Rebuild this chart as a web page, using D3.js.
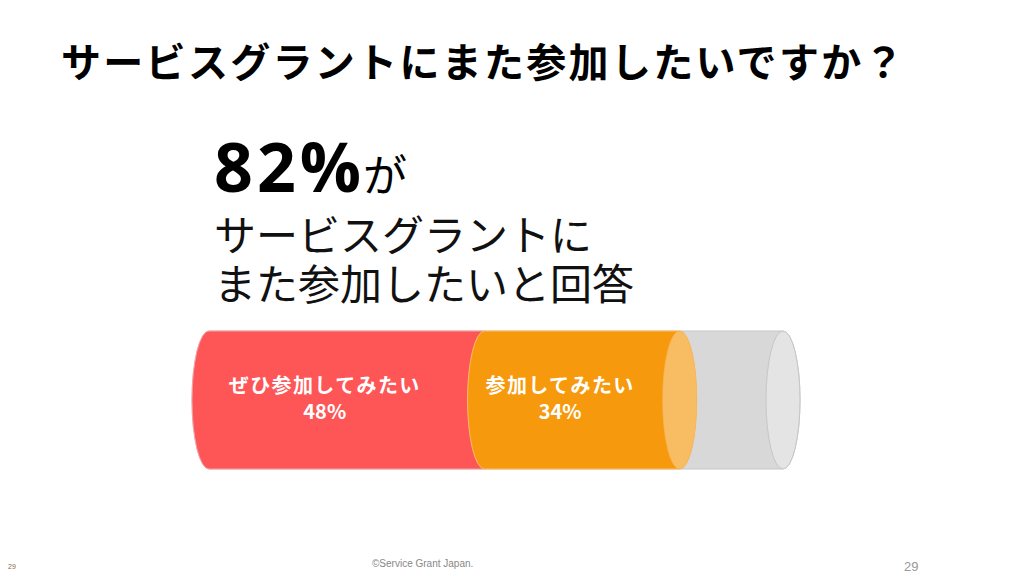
<!DOCTYPE html>
<html><head><meta charset="utf-8">
<script src="https://cdn.jsdelivr.net/npm/d3@7"></script>
<style>
html,body{margin:0;padding:0;background:#fff;}
svg{display:block;}
</style></head>
<body>
<svg id="chart" width="1024" height="576"></svg>
<script>
// ---- data ----
const categories = ["ぜひ参加してみたい", "参加してみたい"];
const values = [48, 34];
const total = 100;
const titleText = "サービスグラントにまた参加したいですか？";
const headlineValue = "82%";
const headlineSuffix = "が";
const subLines = ["サービスグラントに", "また参加したいと回答"];
const footerText = "©Service Grant Japan.";
const pageNumber = "29";

// ---- styles ----
const fills = ["#FE5557", "#F7990D"];
const strokes = ["#F4A4A5", "#F8BE6A"];
const capFill = "#F8BC63";
const bgFill = "#D8D8D8";
const bgCap = "#E4E4E4";
const jp = "'Noto Sans CJK JP', 'Noto Sans', sans-serif";

const svg = d3.select("#chart");

// title
svg.append("text").attr("x", 61).attr("y", 77)
  .attr("font-family", jp).attr("font-weight", 700).attr("font-size", 40)
  .attr("letter-spacing", 2.3).attr("fill", "#000").text(titleText);

// headline block (one text, several lines)
const hl = svg.append("text").attr("fill", "#000").attr("font-family", jp);
hl.append("tspan").attr("x", 214).attr("y", 192)
  .attr("font-family", "'Open Sans', 'Noto Sans', sans-serif")
  .attr("font-weight", 700).attr("font-size", 68).attr("letter-spacing", 4).text(headlineValue);
hl.append("tspan").attr("font-weight", 400).attr("font-size", 44).attr("dx", -2).text(headlineSuffix);
subLines.forEach((line, i) => {
  hl.append("tspan").attr("x", 214).attr("y", 251 + i * 49)
    .attr("font-weight", 400).attr("font-size", 42).attr("fill", "#111").text(line);
});

// ---- cylinder chart ----
const x = d3.scaleLinear().domain([0, total]).range([209, 783]);
const y = d3.scaleLinear().domain([0, 1]).range([331, 469]);
const rx = 17, ry = (y(1) - y(0)) / 2, cy = (y(0) + y(1)) / 2;

function body(x0, x1) {
  return `M${x0},${y(0)} L${x1},${y(0)} A${rx},${ry} 0 0 1 ${x1},${y(1)} L${x0},${y(1)} A${rx},${ry} 0 0 1 ${x0},${y(0)} Z`;
}

const g = svg.append("g");
// background (remaining) cylinder
g.append("path").attr("d", body(x(0), x(total)))
  .attr("fill", bgFill).attr("stroke", "#C6C6C6").attr("stroke-width", 1);
g.append("ellipse").attr("cx", x(total)).attr("cy", cy).attr("rx", rx).attr("ry", ry)
  .attr("fill", bgCap).attr("stroke", "#C6C6C6").attr("stroke-width", 1);

const stack = [];
let acc = 0;
values.forEach((v, i) => { stack.push({ cat: categories[i], v, s: acc, e: acc + v, i }); acc += v; });

g.selectAll("path.seg").data(stack).join("path").attr("class", "seg")
  .attr("d", d => body(x(d.s), x(d.e)))
  .attr("fill", d => fills[d.i]).attr("stroke", d => strokes[d.i]).attr("stroke-width", 1);

const last = stack[stack.length - 1];
g.append("ellipse").attr("cx", x(last.e)).attr("cy", cy).attr("rx", rx).attr("ry", ry)
  .attr("fill", capFill).attr("stroke", "#F6B55A").attr("stroke-width", 0.8);

// labels
const lab = g.selectAll("text.lab").data(stack).join("text").attr("class", "lab")
  .attr("text-anchor", "middle").attr("font-family", jp).attr("font-weight", 700)
  .attr("font-size", 20).attr("fill", "#fff");
lab.append("tspan").attr("x", d => x((d.s + d.e) / 2) - 22).attr("y", 393).attr("letter-spacing", 1.4).text(d => d.cat);
lab.append("tspan").attr("x", d => x((d.s + d.e) / 2) - 22).attr("y", 419).text(d => d.v + "%");

// footer
svg.append("text").attr("x", 8).attr("y", 569).attr("font-family", "'Liberation Sans', sans-serif")
  .attr("font-size", 7).attr("fill", "#8a6a3a").text(pageNumber);
svg.append("text").attr("x", 372).attr("y", 567).attr("font-family", "'Liberation Sans Narrow', 'Liberation Sans', sans-serif")
  .attr("font-size", 10).attr("fill", "#888").text(footerText);
svg.append("text").attr("x", 904).attr("y", 571).attr("font-family", "'Liberation Sans', sans-serif")
  .attr("font-size", 13).attr("fill", "#999").text(pageNumber);
</script>
</body></html>
